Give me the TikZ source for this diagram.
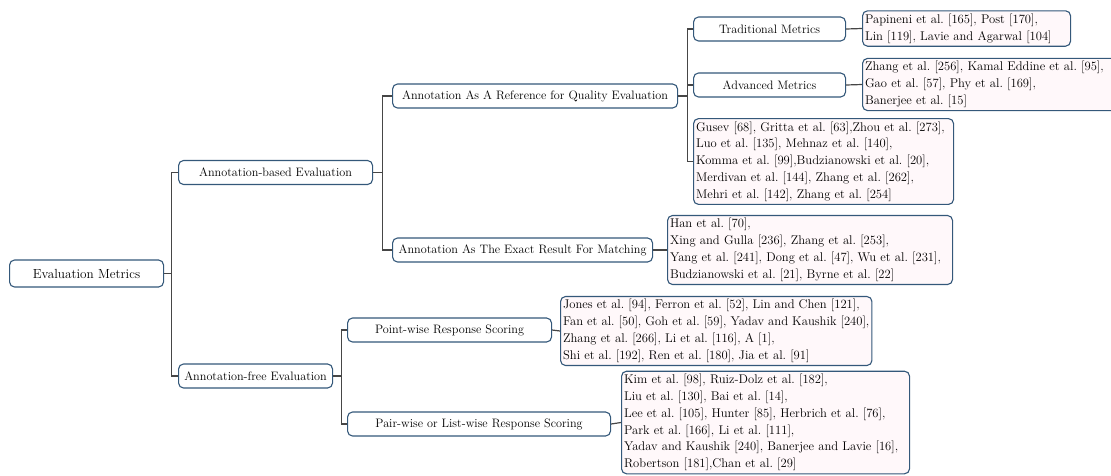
\documentclass[tikz,border=0pt]{standalone}
\usepackage{tikz}

\definecolor{boxline}{RGB}{52,88,122}
\definecolor{leaffill}{RGB}{255,248,250}
\definecolor{linkgray}{RGB}{70,70,70}

\frenchspacing

\tikzset{
    catbox/.style={draw=boxline, fill=white, rounded corners=5pt, line width=1.1pt,
        anchor=west, minimum height=24pt, inner sep=2pt, font=\fontsize{12.2}{14}\selectfont},
    leafbox/.style={draw=boxline, fill=leaffill, rounded corners=5pt, line width=1.1pt,
        anchor=west, align=left, inner xsep=2.5pt, inner ysep=3pt, font=\fontsize{12.6}{16.8}\selectfont},
    link/.style={draw=linkgray, line width=1.2pt}
}

\begin{document}
\begin{tikzpicture}[x=1pt, y=-1pt]
    \useasboundingbox (0,0) rectangle (1111,475);

    % Draw the root and the first level
    \node[catbox, minimum width=154pt, minimum height=27pt, font=\fontsize{13.2}{15}\selectfont] (root) at (9,273.5) {Evaluation Metrics};
    \node[catbox, minimum width=194pt] (annbased) at (178,172.5) {Annotation-based Evaluation};
    \node[catbox, minimum width=154pt] (annfree) at (178,376) {Annotation-free Evaluation};

    % Draw the second level
    \node[catbox, minimum width=285pt] (reference) at (392,96) {Annotation As A Reference for Quality Evaluation};
    \node[catbox, minimum width=260pt] (matching) at (392,250) {Annotation As The Exact Result For Matching};
    \node[catbox, minimum width=204pt] (pointwise) at (347,330) {Point-wise Response Scoring};
    \node[catbox, minimum width=263pt] (pairwise) at (347,424) {Pair-wise or List-wise Response Scoring};

    % Draw the third level
    \node[catbox, minimum width=152pt] (traditional) at (693,29) {Traditional Metrics};
    \node[catbox, minimum width=152pt] (advanced) at (693,85) {Advanced Metrics};

    % Draw the leaves with the cited works
    \node[leafbox, text width=203pt] (tradleaf) at (862,28.5) {Papineni et al. [165], Post [170],\\
        Lin [119], Lavie and Agarwal [104]};
    \node[leafbox, text width=258pt] (advleaf) at (862,84.5) {Zhang et al. [256], Kamal Eddine et al. [95],\\
        Gao et al. [57], Phy et al. [169],\\
        Banerjee et al. [15]};
    \node[leafbox, text width=255pt] (refleaf) at (693,161.5) {Gusev [68], Gritta et al. [63],Zhou et al. [273],\\
        Luo et al. [135], Mehnaz et al. [140],\\
        Komma et al. [99],Budzianowski et al. [20],\\
        Merdivan et al. [144], Zhang et al. [262],\\
        Mehri et al. [142], Zhang et al. [254]};
    \node[leafbox, text width=280pt] (matchleaf) at (667,250) {Han et al. [70],\\
        Xing and Gulla [236], Zhang et al. [253],\\
        Yang et al. [241], Dong et al. [47], Wu et al. [231],\\
        Budzianowski et al. [21], Byrne et al. [22]};
    \node[leafbox] (pointleaf) at (560,331) {Jones et al. [94], Ferron et al. [52], Lin and Chen [121],\\
        Fan et al. [50], Goh et al. [59], Yadav and Kaushik [240],\\
        Zhang et al. [266], Li et al. [116], A [1],\\
        Shi et al. [192], Ren et al. [180], Jia et al. [91]};
    \node[leafbox, text width=283pt] (pairleaf) at (621,422.5) {Kim et al. [98], Ruiz-Dolz et al. [182],\\
        Liu et al. [130], Bai et al. [14],\\
        Lee et al. [105], Hunter [85], Herbrich et al. [76],\\
        Park et al. [166], Li et al. [111],\\
        Yadav and Kaushik [240], Banerjee and Lavie [16],\\
        Robertson [181],Chan et al. [29]};

    % Draw the elbow connectors
    \draw[link] (root.east) -- ++(7,0) |- (annbased.west);
    \draw[link] (root.east) -- ++(7,0) |- (annfree.west);
    \draw[link] (annbased.east) -- ++(9,0) |- (reference.west);
    \draw[link] (annbased.east) -- ++(9,0) |- (matching.west);
    \draw[link] (annfree.east) -- ++(8,0) |- (pointwise.west);
    \draw[link] (annfree.east) -- ++(8,0) |- (pairwise.west);
    \draw[link] (reference.east) -- ++(9,0) |- (traditional.west);
    \draw[link] (reference.east) -- ++(9,0) |- (advanced.west);
    \draw[link] (reference.east) -- ++(9,0) |- (refleaf.west);

    % Draw the straight links to the leaves
    \draw[link] (traditional.east) -- (tradleaf.west);
    \draw[link] (advanced.east) -- (advleaf.west);
    \draw[link] (matching.east) -- (matchleaf.west);
    \draw[link] (pointwise.east) -- (pointleaf.west);
    \draw[link] (pairwise.east) -- (pairleaf.west);
\end{tikzpicture}
\end{document}
